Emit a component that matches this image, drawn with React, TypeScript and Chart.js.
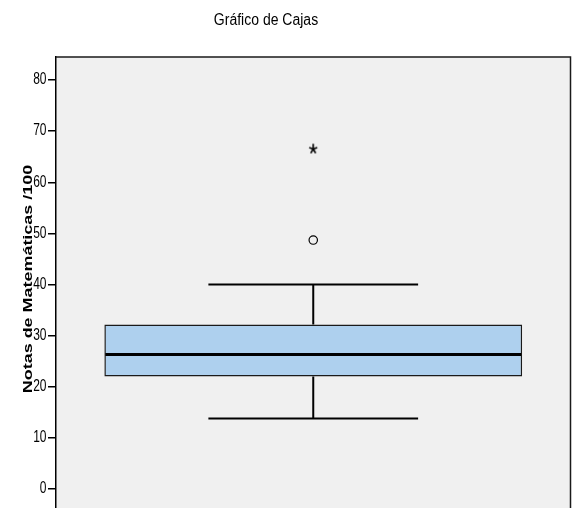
import React, { useEffect, useRef } from "react";
import { Chart, registerables } from "chart.js";

Chart.register(...registerables);

// ---- data ----
const chartTitle = "Gráfico de Cajas";
const yAxisTitle = "Notas de Matemáticas /100";
const categories = ["Notas de Matemáticas"];
const q1Values = [22.0];
const medianValues = [26.3];
const q3Values = [32.2];
const whiskerLowValues = [13.8];
const whiskerHighValues = [40.0];
const outlierValues = [48.7];
const extremeValues = [66.6];
const yTickValues = [0, 10, 20, 30, 40, 50, 60, 70, 80];
const yMin = -3.716;
const yMax = 84.5;

const FONT = '"Liberation Sans", Arial, sans-serif';

function makeStar(): HTMLCanvasElement {
  const c = document.createElement("canvas");
  c.width = 12;
  c.height = 14;
  const ctx = c.getContext("2d")!;
  ctx.strokeStyle = "#000";
  ctx.lineWidth = 1.6;
  ctx.lineCap = "butt";
  const cx = 6, cy = 7.5;
  for (let i = 0; i < 5; i++) {
    const ang = -Math.PI / 2 + (i * 2 * Math.PI) / 5;
    ctx.beginPath();
    ctx.moveTo(cx, cy);
    ctx.lineTo(cx + Math.cos(ang) * 4.2, cy + Math.sin(ang) * 5.2);
    ctx.stroke();
  }
  return c;
}

const spssPlugin = {
  id: "spssBox",
  beforeDraw(chart: any) {
    const { ctx, chartArea: a } = chart;
    ctx.save();
    ctx.fillStyle = "#f0f0f0";
    ctx.fillRect(a.left, a.top, a.right - a.left, a.bottom - a.top);
    ctx.restore();
  },
  afterDatasetsDraw(chart: any) {
    const { ctx } = chart;
    const y = chart.scales.y;
    const meta = chart.getDatasetMeta(0);
    ctx.save();
    ctx.strokeStyle = "#000";
    meta.data.forEach((bar: any, i: number) => {
      const w = bar.width;
      const left = bar.x - w / 2;
      const right = bar.x + w / 2;
      // median
      const ym = y.getPixelForValue(medianValues[i]);
      ctx.lineWidth = 3;
      ctx.beginPath();
      ctx.moveTo(left + 1, ym);
      ctx.lineTo(right - 1, ym);
      ctx.stroke();
      // whiskers
      ctx.lineWidth = 2;
      const capHalf = w * 0.251;
      const yq3 = y.getPixelForValue(q3Values[i]);
      const yq1 = y.getPixelForValue(q1Values[i]);
      const yhi = y.getPixelForValue(whiskerHighValues[i]);
      const ylo = y.getPixelForValue(whiskerLowValues[i]);
      ctx.beginPath();
      ctx.moveTo(bar.x, yq3);
      ctx.lineTo(bar.x, yhi);
      ctx.moveTo(bar.x - capHalf, yhi);
      ctx.lineTo(bar.x + capHalf, yhi);
      ctx.moveTo(bar.x, yq1);
      ctx.lineTo(bar.x, ylo);
      ctx.moveTo(bar.x - capHalf, ylo);
      ctx.lineTo(bar.x + capHalf, ylo);
      ctx.stroke();
    });
    ctx.restore();
  },
  afterDraw(chart: any) {
    const { ctx, chartArea: a } = chart;
    const y = chart.scales.y;
    ctx.save();
    // top and right frame
    ctx.strokeStyle = "#1a1a1a";
    ctx.lineWidth = 1.5;
    ctx.beginPath();
    ctx.moveTo(a.left, a.top);
    ctx.lineTo(a.right, a.top);
    ctx.lineTo(a.right, a.bottom);
    ctx.stroke();

    ctx.fillStyle = "#000";
    // chart title
    ctx.save();
    ctx.font = `14px ${FONT}`;
    ctx.textAlign = "center";
    ctx.textBaseline = "alphabetic";
    ctx.translate(266, 25);
    ctx.scale(1, 1.17);
    ctx.fillText(chartTitle, 0, 0);
    ctx.restore();

    // tick labels
    y.ticks.forEach((t: any) => {
      const py = y.getPixelForValue(t.value);
      ctx.save();
      ctx.font = `12px ${FONT}`;
      ctx.textAlign = "right";
      ctx.textBaseline = "middle";
      ctx.translate(46.5, py);
      ctx.scale(1, 1.3);
      ctx.fillText(String(t.value), 0, 0);
      ctx.restore();
    });

    // y axis title
    ctx.save();
    ctx.font = `bold 13px ${FONT}`;
    ctx.textAlign = "center";
    ctx.textBaseline = "alphabetic";
    ctx.translate(31.7, 279);
    ctx.rotate(-Math.PI / 2);
    ctx.scale(1.38, 1);
    ctx.fillText(yAxisTitle, 0, 0);
    ctx.restore();

    ctx.restore();
  },
};

export default function App() {
  const ref = useRef<HTMLCanvasElement | null>(null);

  useEffect(() => {
    if (!ref.current) return;
    const star = makeStar();
    const chart = new Chart(ref.current, {
      type: "bar",
      data: {
        labels: categories,
        datasets: [
          {
            type: "bar",
            data: categories.map((_, i) => [q1Values[i], q3Values[i]]) as any,
            backgroundColor: "#aed0ee",
            borderColor: "#1a1a1a",
            borderWidth: 1.5,
            borderSkipped: false,
            categoryPercentage: 1,
            barPercentage: 0.812,
          } as any,
          {
            type: "line",
            data: outlierValues,
            showLine: false,
            pointStyle: "circle",
            pointRadius: 4.2,
            pointBorderWidth: 1.2,
            pointBorderColor: "#000",
            pointBackgroundColor: "rgba(0,0,0,0)",
          } as any,
          {
            type: "line",
            data: extremeValues,
            showLine: false,
            pointStyle: star,
            pointRadius: 6,
          } as any,
        ],
      },
      options: {
        responsive: false,
        animation: false,
        devicePixelRatio: 1,
        events: [],
        layout: { autoPadding: false, padding: { top: 57, right: 1.5, bottom: 0, left: 0 } },
        plugins: {
          legend: { display: false },
          title: { display: false },
          tooltip: { enabled: false },
        },
        scales: {
          x: { display: false },
          y: {
            min: yMin,
            max: yMax,
            afterBuildTicks: (scale: any) => {
              scale.ticks = yTickValues.map((v) => ({ value: v }));
            },
            afterFit: (scale: any) => {
              scale.width = 56;
            },
            ticks: { display: false },
            grid: {
              display: true,
              drawOnChartArea: false,
              drawTicks: true,
              tickLength: 8,
              color: "#000",
              lineWidth: 1.5,
            },
            border: { display: true, color: "#000", width: 1.5 },
          },
        },
      },
      plugins: [spssPlugin],
    });
    return () => chart.destroy();
  }, []);

  return (
    <div style={{ position: "absolute", left: 0, top: 0, width: 572, height: 508 }}>
      <canvas ref={ref} width={572} height={508} />
    </div>
  );
}
